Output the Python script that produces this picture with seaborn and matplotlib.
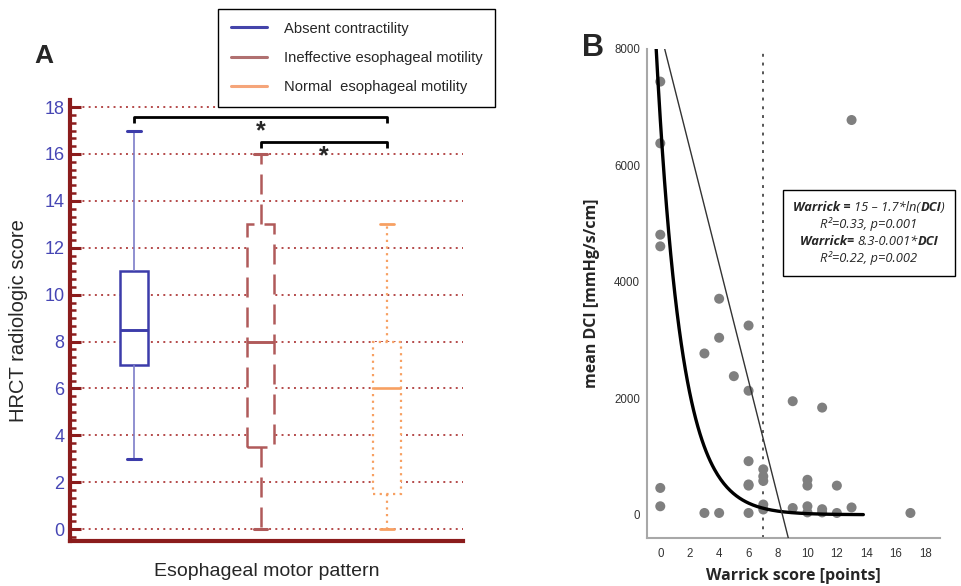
import numpy as np
import pandas as pd
import matplotlib
matplotlib.use("Agg")
import matplotlib.pyplot as plt
from matplotlib.lines import Line2D
from matplotlib.ticker import MultipleLocator
from matplotlib.offsetbox import TextArea, HPacker, VPacker, AnchoredOffsetbox
import seaborn as sns

sns.set_style("white")
plt.rcParams["font.family"] = ["Liberation Sans", "DejaVu Sans"]

# ── Data ──────────────────────────────────────────────────────────────────────

# Panel A: HRCT score per motor pattern (min, q1, median, q3, max as read)
patterns = [
    "Absent contractility",
    "Ineffective esophageal motility",
    "Normal  esophageal motility",
]
absent_scores = [3, 7, 8.5, 11, 17]
iem_scores = [0, 3.5, 8, 13, 16]
normal_scores = [0, 1.5, 6, 8, 13]

# significance brackets: (left group, right group, bracket height)
bracket_left = [0, 1]
bracket_right = [2, 2]
bracket_height = [17.57, 16.5]

# Panel B: Warrick score vs mean DCI
warrick_score = [0, 0, 0, 0, 0, 0,
                 3, 3,
                 4, 4, 4,
                 5,
                 6, 6, 6, 6, 6, 6,
                 7, 7, 7, 7, 7,
                 9, 9,
                 10, 10, 10, 10,
                 11, 11, 11,
                 12, 12,
                 13, 13,
                 17]
mean_dci = [7440, 6380, 4810, 4610, 460, 145,
            2770, 30,
            3710, 3040, 30,
            2380,
            3250, 2130, 920, 520, 500, 30,
            780, 660, 580, 175, 90,
            1950, 115,
            600, 500, 145, 40,
            1840, 95, 40,
            500, 30,
            6780, 125,
            30]

# regression fits reported in the box
log_fit = (15, 1.7)       # Warrick = 15 - 1.7*ln(DCI)
lin_fit = (8.3, 0.001)    # Warrick = 8.3 - 0.001*DCI
cutoff = 7

# ── Figure ────────────────────────────────────────────────────────────────────

fig = plt.figure(figsize=(9.61, 5.86), dpi=100)
axA = fig.add_axes([0.0728, 0.0773, 0.409, 0.752])
axB = fig.add_axes([0.6733, 0.0819, 0.3047, 0.8345])

# ── Panel A ───────────────────────────────────────────────────────────────────

df = pd.DataFrame({
    "pattern": np.repeat(patterns, 5),
    "score": absent_scores + iem_scores + normal_scores,
})

styles = [
    dict(color="#3c3caa", ls="-", wcolor="#7d7dc8", wlw=1.2, lw=1.8),
    dict(color="#b05a5a", ls=(0, (8, 4)), wcolor="#b05a5a", wlw=1.8, lw=1.8),
    dict(color="#f7a062", ls=(0, (1, 2)), wcolor="#f7a062", wlw=1.6, lw=1.6),
]

for name, st in zip(patterns, styles):
    sns.boxplot(
        data=df[df["pattern"] == name], x="pattern", y="score",
        order=patterns, width=0.22, color="white", saturation=1,
        linecolor=st["color"], linewidth=st["lw"], showfliers=False,
        whis=1.5, capwidths=0.11,
        boxprops=dict(linestyle=st["ls"]),
        whiskerprops=dict(linestyle=st["ls"], color=st["wcolor"],
                          linewidth=st["wlw"]),
        capprops=dict(linestyle="-", linewidth=st["lw"] + 0.4),
        medianprops=dict(linestyle="-", linewidth=st["lw"] + 0.3),
        ax=axA,
    )

axA.set_xlim(-0.506, 2.60)
axA.set_ylim(-0.49, 18.3)
axA.set_xticks([])
axA.yaxis.set_major_locator(MultipleLocator(2))
axA.yaxis.set_minor_locator(MultipleLocator(1 / 3))
axA.grid(axis="y", which="major", color="#b44a4a", linestyle=(0, (1, 2.2)),
         linewidth=1.4)
axA.set_axisbelow(True)
axA.tick_params(axis="y", which="major", left=True, direction="in", length=8,
                width=2.2, color="#8b1c1c", labelcolor="#4646b4",
                labelsize=13, pad=4)
axA.tick_params(axis="y", which="minor", left=True, direction="in",
                length=4.5, width=1.8, color="#8b1c1c")
for side in ["top", "right"]:
    axA.spines[side].set_visible(False)
for side in ["left", "bottom"]:
    axA.spines[side].set_color("#8b1c1c")
    axA.spines[side].set_linewidth(3)
axA.set_ylabel("HRCT radiologic score", fontsize=14.5, labelpad=12)
axA.set_xlabel("Esophageal motor pattern", fontsize=14, labelpad=16)

# significance brackets
for x0, x1, h in zip(bracket_left, bracket_right, bracket_height):
    axA.plot([x0, x0, x1, x1], [h - 0.25, h, h, h - 0.25], color="black",
             linewidth=2, solid_capstyle="butt", clip_on=False)
    axA.text((x0 + x1) / 2, h - 0.1, "*", ha="center", va="top",
             fontsize=18, fontweight="bold")

handles = [Line2D([], [], color="#4444aa", lw=2.2),
           Line2D([], [], color="#b07070", lw=2.2),
           Line2D([], [], color="#f5a57a", lw=2.2)]
leg = fig.legend(handles, patterns, loc="upper left",
                 bbox_to_anchor=(218 / 961, 1 - 9 / 586), borderaxespad=0,
                 frameon=True, fancybox=False, edgecolor="black",
                 framealpha=1, fontsize=10.6, handlelength=2.5,
                 handletextpad=1.1, labelspacing=1.05, borderpad=0.85)
leg.get_frame().set_linewidth(1)

fig.text(0.036, 0.905, "A", fontsize=19, fontweight="bold", ha="left",
         va="center")

# ── Panel B ───────────────────────────────────────────────────────────────────

sns.scatterplot(x=warrick_score, y=mean_dci, color="#7f7f7f", s=52,
                edgecolor="none", ax=axB, zorder=3)

# fitted log curve, drawn until it leaves the top of the axis
w_top = log_fit[0] - log_fit[1] * np.log(8000)
w_curve = np.linspace(w_top, 13.8, 200)
sns.lineplot(x=w_curve, y=np.exp((log_fit[0] - w_curve) / log_fit[1]),
             color="black", linewidth=2.4, ax=axB, zorder=4)

# fitted straight line
d_line = np.array([8000, -400])
sns.lineplot(x=lin_fit[0] - lin_fit[1] * d_line, y=d_line, color="#333333",
             linewidth=1.0, ax=axB, zorder=4)

axB.axvline(cutoff, color="#555555", linestyle=(0, (1.5, 3)), linewidth=1.4,
            zorder=2)

axB.set_xlim(-0.9, 19.0)
axB.set_ylim(-400, 8000)
axB.set_xticks(range(0, 19, 2))
axB.set_yticks(range(0, 8001, 2000))
axB.tick_params(length=0, labelsize=8.3, labelcolor="#333333")
axB.tick_params(axis="x", pad=7)
axB.tick_params(axis="y", pad=5)
for side in ["top", "right"]:
    axB.spines[side].set_visible(False)
for side in ["left", "bottom"]:
    axB.spines[side].set_color("#a8a8a8")
    axB.spines[side].set_linewidth(1.5)
axB.set_xlabel("Warrick score [points]", fontsize=11.5, fontweight="bold",
               family="Open Sans", labelpad=6)
axB.set_ylabel("mean DCI [mmHg/s/cm]", fontsize=11.5, fontweight="bold",
               family="Open Sans", labelpad=10)

fig.text(0.606, 0.918, "B", fontsize=22, fontweight="bold", ha="left",
         va="center")

# equation box
fam = "Open Sans"
it = dict(fontsize=9.3, style="italic", family=fam)
bi = dict(fontsize=9.3, style="italic", fontweight="bold", family=fam)


def row(parts):
    return HPacker(children=[TextArea(t, textprops=p) for t, p in parts],
                   align="baseline", pad=0, sep=0)


rows = VPacker(children=[
    row([("Warrick = ", bi), ("15 \u2013 1.7*ln(", it), ("DCI", bi), (")", it)]),
    row([("R\u00b2=0.33, p=0.001", it)]),
    row([("Warrick= ", bi), ("8.3-0.001*", it), ("DCI", bi)]),
    row([("R\u00b2=0.22, p=0.002", it)]),
], align="center", pad=0, sep=2.5)
box = AnchoredOffsetbox(loc="center", child=rows, pad=0.75, borderpad=0,
                        frameon=True, bbox_to_anchor=(869 / 961, 1 - 233 / 586),
                        bbox_transform=fig.transFigure)
box.patch.set_edgecolor("black")
box.patch.set_linewidth(1)
box.patch.set_boxstyle("square", pad=0)
fig.add_artist(box)

plt.savefig("out.png", dpi=100)
